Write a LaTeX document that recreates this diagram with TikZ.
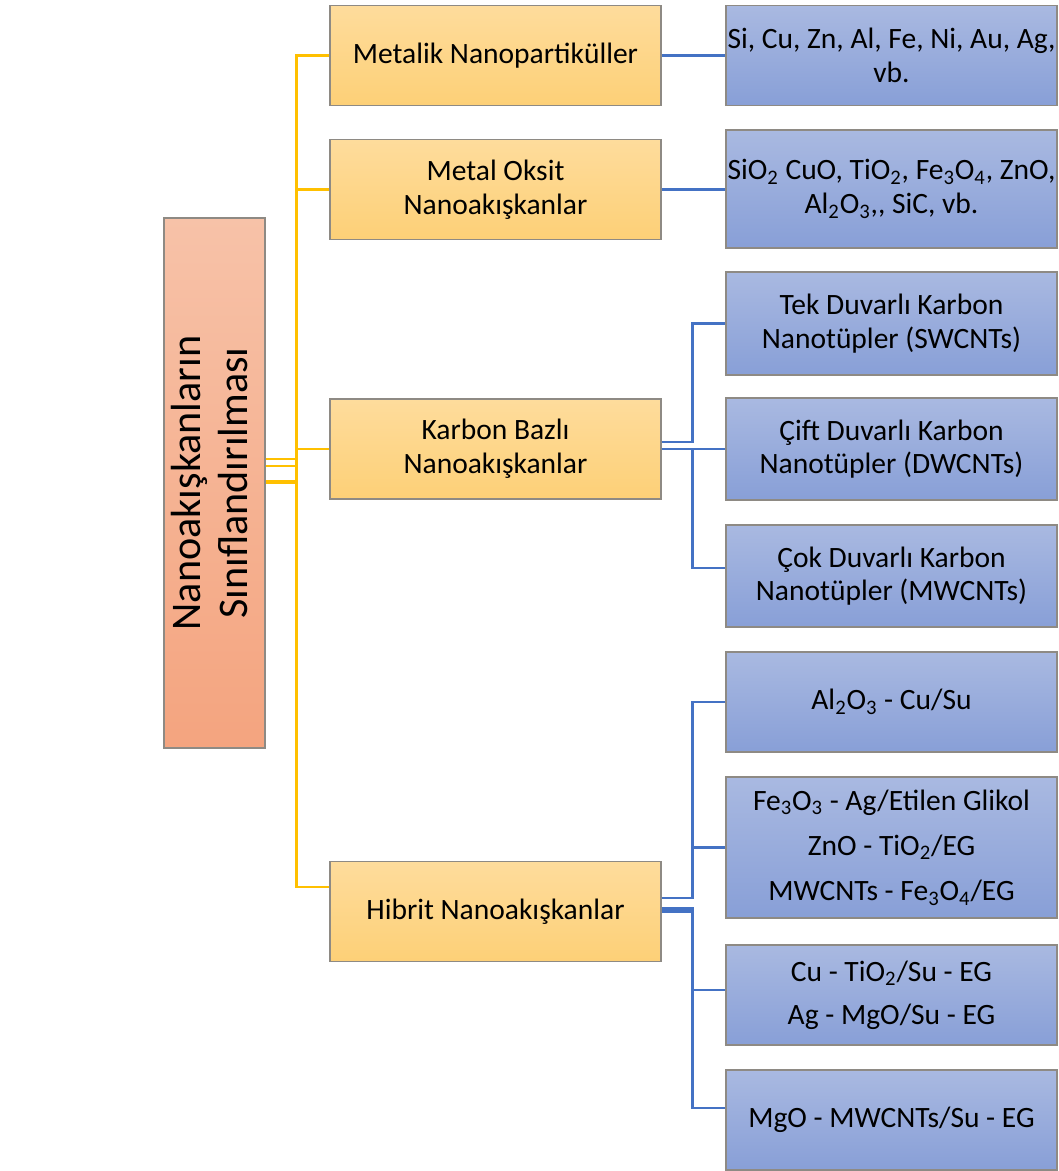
\documentclass[tikz,border=0pt]{standalone}
\usepackage{fontspec}
\setmainfont{Carlito}
\usetikzlibrary{shadings}

\definecolor{rootTop}{HTML}{F7C2A8}
\definecolor{rootBot}{HTML}{F4A47F}
\definecolor{catTop}{HTML}{FEDC9C}
\definecolor{catBot}{HTML}{FDD077}
\definecolor{itemTop}{HTML}{A9B9E1}
\definecolor{itemBot}{HTML}{889FD7}
\definecolor{goldline}{HTML}{FFC000}
\definecolor{blueline}{HTML}{4472C4}
\definecolor{boxedge}{HTML}{8E8A84}

\begin{document}
\begin{tikzpicture}
    [x=0.02cm, y=-0.02cm,
    every node/.style={draw=boxedge, line width=0.7pt, align=center, inner sep=0pt,
      font=\fontsize{16.8}{19.2}\selectfont},
    root/.style={top color=rootTop, bottom color=rootBot, minimum width=2.02cm, minimum height=10.6cm},
    cat/.style={top color=catTop, bottom color=catBot, minimum width=6.62cm, minimum height=2cm},
    item/.style={top color=itemTop, bottom color=itemBot, minimum width=6.62cm, minimum height=2cm},
    goldLink/.style={draw=goldline, line width=1.4pt},
    blueLink/.style={draw=blueline, line width=1.4pt}]
    \useasboundingbox (0,0) rectangle (1059,1171);
    \node [root] (R) at (214.5,483)
      {\rotatebox{90}{\fontsize{24}{27}\selectfont\begin{tabular}{@{}c@{}}Nanoakışkanların\\Sınıflandırılması\end{tabular}}};
    \node [cat] (met) at (495.5,55.5) {Metalik Nanopartiküller};
    \node [cat] (oks) at (495.5,189.5) {Metal Oksit\\Nanoakışkanlar};
    \node [cat] (karb) at (495.5,449) {Karbon Bazlı\\Nanoakışkanlar};
    \node [cat] (hib) at (495.5,911.5) {Hibrit Nanoakışkanlar};
    \node [item] (si) at (891.5,55.5) {Si, Cu, Zn, Al, Fe, Ni, Au, Ag,\\vb.};
    \node [item, minimum height=2.36cm] (sio) at (891.5,189)
      {SiO\textsubscript{2} CuO, TiO\textsubscript{2}, Fe\textsubscript{3}O\textsubscript{4}, ZnO,\\Al\textsubscript{2}O\textsubscript{3},{},{} SiC, vb.};
    \node [item, minimum height=2.06cm] (swc) at (891.5,323.5) {Tek Duvarlı Karbon\\Nanotüpler (SWCNTs)};
    \node [item, minimum height=2.04cm] (dwc) at (891.5,449) {Çift Duvarlı Karbon\\Nanotüpler (DWCNTs)};
    \node [item, minimum height=2.04cm] (mwc) at (891.5,576) {Çok Duvarlı Karbon\\Nanotüpler (MWCNTs)};
    \node [item] (h1) at (891.5,702) {Al\textsubscript{2}O\textsubscript{3} - Cu/Su};
    \node [item, minimum height=2.82cm] (h2) at (891.5,847.5)
      {Fe\textsubscript{3}O\textsubscript{3} - Ag/Etilen Glikol\\[6.5pt]ZnO - TiO\textsubscript{2}/EG\\[6.5pt]MWCNTs - Fe\textsubscript{3}O\textsubscript{4}/EG};
    \node [item] (h3) at (891.5,995) {Cu - TiO\textsubscript{2}/Su - EG\\[5.5pt]Ag - MgO/Su - EG};
    \node [item] (h4) at (891.5,1120) {MgO - MWCNTs/Su - EG};

    \draw [goldLink] ([yshift=0.48cm]R.east) -- ++(31,0) |- (met.west);
    \draw [goldLink] ([yshift=0.34cm]R.east) -- ++(31,0) |- (oks.west);
    \draw [goldLink] ([yshift=0.04cm]R.east) -- ++(31,0) |- (karb.west);
    \draw [goldLink] (R.east) -- ++(31,0) |- ([yshift=0.49cm]hib.west);

    \draw [blueLink] (met.east) -- (met.east -| si.west);
    \draw [blueLink] (oks.east) -- (oks.east -| sio.west);
    \draw [blueLink] ([yshift=0.14cm]karb.east) -- ++(31,0) |- (swc.west);
    \draw [blueLink] (karb.east) -- (dwc.west);
    \draw [blueLink] (karb.east) -- ++(31,0) |- ([yshift=0.16cm]mwc.west);
    \draw [blueLink] ([yshift=0.27cm]hib.east) -- ++(31,0) |- (h1.west);
    \draw [blueLink] ([yshift=0.27cm]hib.east) -- ++(31,0) |- (h2.west);
    \draw [blueLink] ([yshift=0.06cm]hib.east) -- ++(31,0) |- ([yshift=0.1cm]h3.west);
    \draw [blueLink] (hib.east) -- ++(31,0) |- ([yshift=0.24cm]h4.west);
\end{tikzpicture}
\end{document}
